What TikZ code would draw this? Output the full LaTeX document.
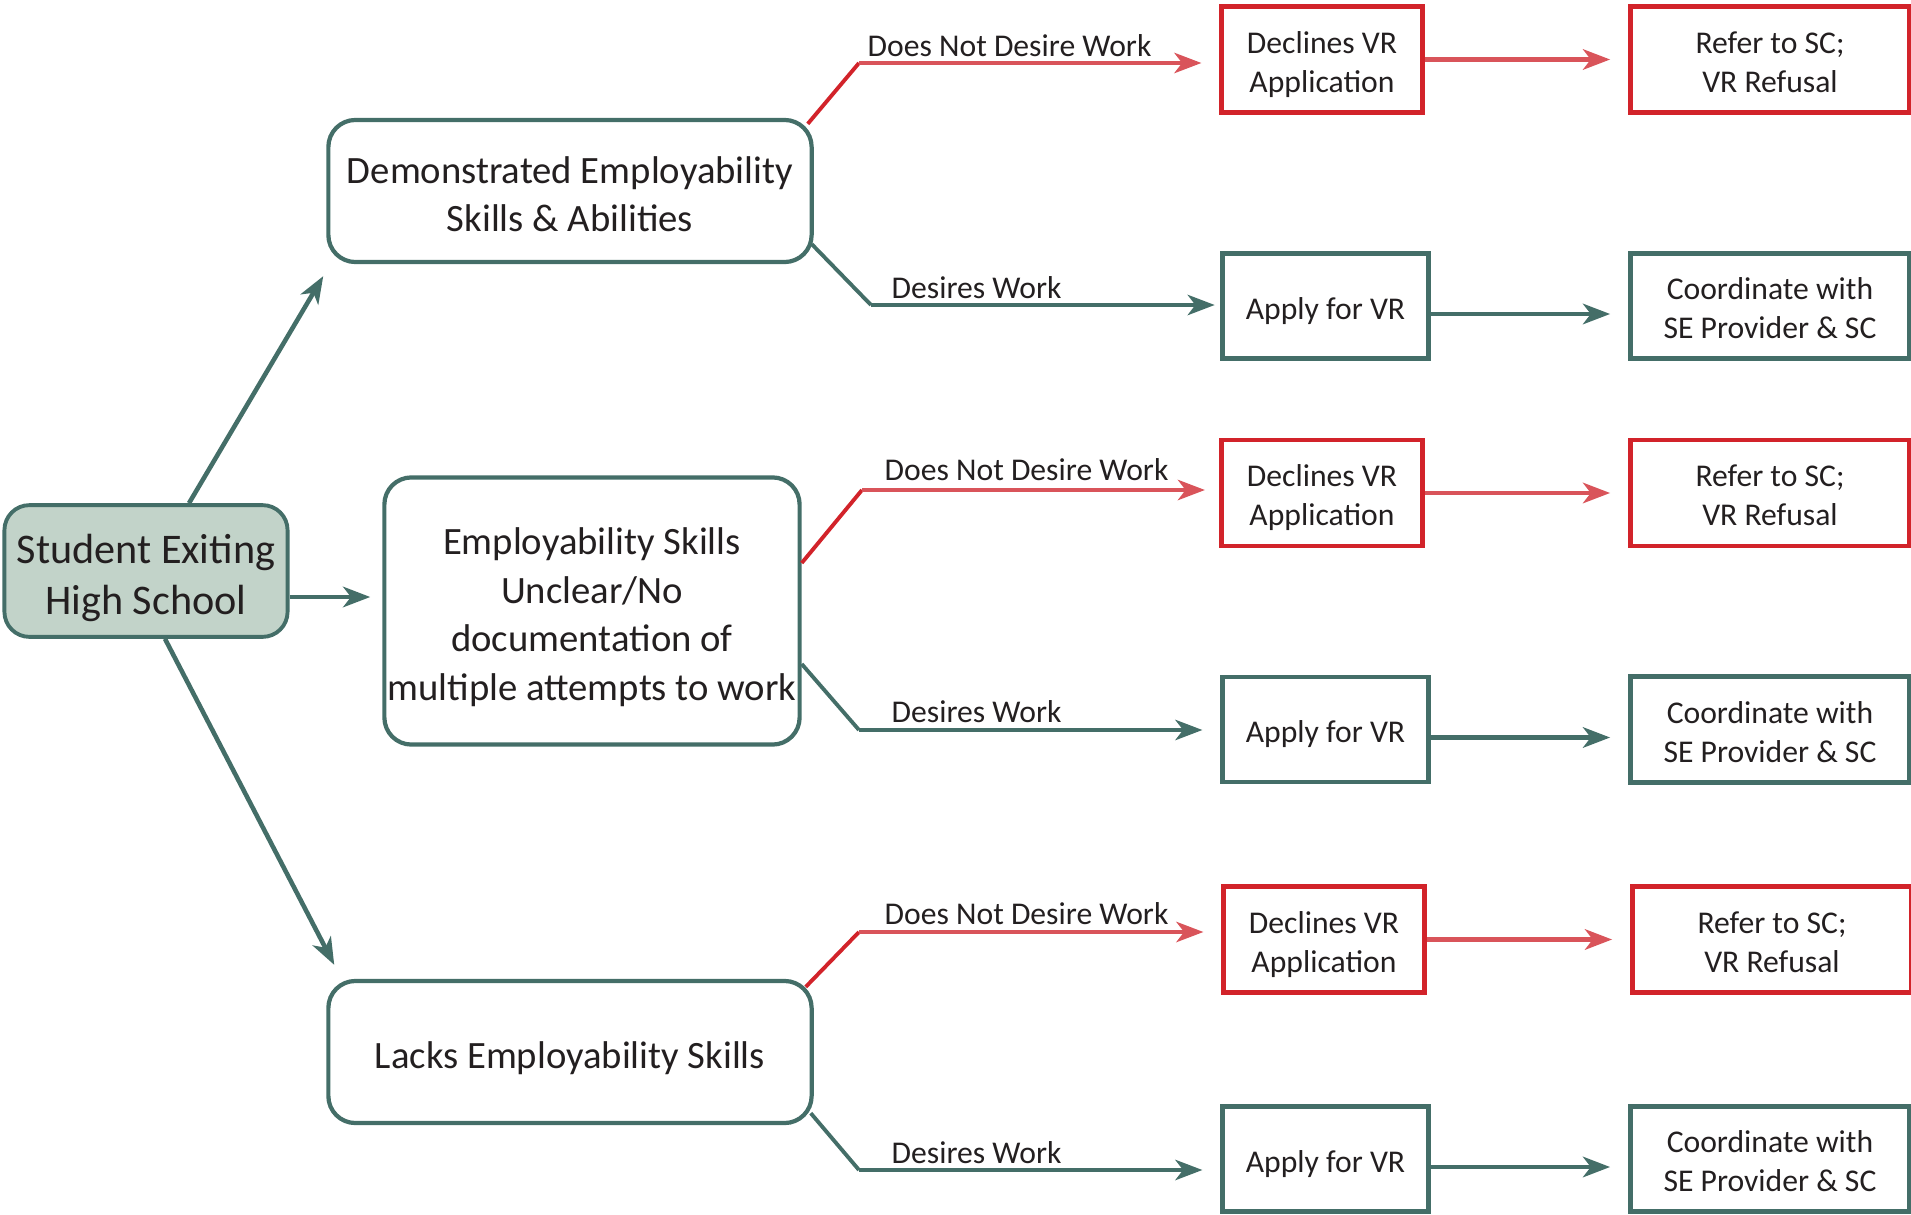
\documentclass[tikz,border=0pt]{standalone}
\usepackage{fontspec}
\setmainfont{Carlito}
\usetikzlibrary{shapes,arrows.meta,calc}
\definecolor{vrteal}{RGB}{68,110,104}
\definecolor{vrred}{RGB}{210,35,42}
\definecolor{vrpink}{RGB}{217,84,90}
\definecolor{vrfill}{RGB}{194,211,201}
\definecolor{vrtext}{RGB}{35,31,32}
\tikzstyle{boxtext} = [align=flush center, inner xsep=0pt, text=vrtext,
    execute at begin node={\rule{0pt}{1.1em}}, execute at end node={\rule[-0.25em]{0pt}{0.25em}}]
\tikzstyle{start} = [rectangle, boxtext, draw=vrteal, fill=vrfill, line width=1.1pt,
    rounded corners=0.25cm, font=\fontsize{12}{14.6}\selectfont]
\tikzstyle{block} = [rectangle, boxtext, draw=vrteal, line width=1.2pt,
    rounded corners=0.27cm, font=\fontsize{11}{13.8}\selectfont]
\tikzstyle{nowork} = [rectangle, boxtext, draw=vrred, line width=1.4pt, minimum height=1.06cm,
    font=\fontsize{9}{11.1}\selectfont]
\tikzstyle{work} = [nowork, draw=vrteal, minimum height=1.05cm]
\tikzstyle{branch} = [anchor=base west, inner sep=0pt, text=vrtext, font=\fontsize{9}{11}\selectfont]
\tikzstyle{line} = [draw=vrteal, line width=1.1pt, -{Stealth[length=7.7pt,width=5.8pt,inset=2.2pt]}]
\tikzstyle{redline} = [line, draw=vrpink]
\tikzstyle{thick line} = [line, line width=1.4pt]
\tikzstyle{thick redline} = [redline, line width=1.4pt]
\tikzstyle{fork} = [draw=vrteal, line width=1.1pt]
\tikzstyle{redfork} = [fork, draw=vrred]

\begin{document}
\begin{tikzpicture}[x=0.01cm, y=-0.01cm]
\useasboundingbox (0,0) rectangle (1911,1215);

\node [start, text width=2.83cm, minimum height=1.31cm] at (146,571) (student) {Student Exiting\\High School};
\node [block, text width=4.83cm, minimum height=1.42cm] at (570,191) (demo) {Demonstrated Employability\\Skills \& Abilities};
\node [block, align=center, minimum width=4.15cm, minimum height=2.67cm] at (592,611) (unclear) {\rule{0pt}{1.1em}Employability Skills\\Unclear/No\\documentation of\\multiple attempts to work};
\node [block, text width=4.83cm, minimum height=1.42cm] at (570,1052) (lacks) {Lacks Employability Skills};

\node [nowork, text width=2.01cm] at (1322,59.5) (decline1) {Declines VR\\Application};
\node [nowork, text width=2.795cm] at (1770,59.5) (refer1) {Refer to SC;\\VR Refusal};
\node [work, text width=2.06cm] at (1325.5,306) (apply1) {Apply for VR};
\node [work, text width=2.795cm] at (1770,306) (coord1) {Coordinate with\\SE Provider \& SC};

\node [nowork, text width=2.01cm] at (1322,493) (decline2) {Declines VR\\Application};
\node [nowork, text width=2.795cm] at (1770,493) (refer2) {Refer to SC;\\VR Refusal};
\node [work, text width=2.06cm] at (1325.5,729.5) (apply2) {Apply for VR};
\node [work, text width=2.795cm] at (1770,729.5) (coord2) {Coordinate with\\SE Provider \& SC};

\node [nowork, text width=2.01cm] at (1324,939.5) (decline3) {Declines VR\\Application};
\node [nowork, text width=2.795cm] at (1772,939.5) (refer3) {Refer to SC;\\VR Refusal};
\node [work, text width=2.06cm] at (1325.5,1159) (apply3) {Apply for VR};
\node [work, text width=2.795cm] at (1770,1159) (coord3) {Coordinate with\\SE Provider \& SC};

\coordinate (f1) at (859,63);
\coordinate (f2) at (871,305);
\coordinate (f3) at (862,490);
\coordinate (f4) at (859,730);
\coordinate (f5) at (859,932);
\coordinate (f6) at (859,1170);

\draw [line, line width=1.3pt] ($(student.north)+(43,0)$) -- ($(demo.south west)+(-3,12)$);
\draw [thick line] ($(student.east)+(0,26)$) -- ($(unclear.west)+(-12,-14)$);
\draw [line, line width=1.3pt] ($(student.south)+(19,0)$) -- ($(lacks.north west)+(8,-14)$);

\draw [redfork] ($(demo.north east)+(-6,6)$) -- (f1);
\draw [redline, shorten >=5pt] (f1) -- (f1 -| decline1.west);
\draw [fork] ($(demo.south east)+(-2,-20)$) -- (f2);
\draw [line, shorten >=1.5pt] (f2) -- (f2 -| apply1.west);

\draw [redfork] ($(unclear.east)+(0,-48)$) -- (f3);
\draw [redline, shorten >=4pt] (f3) -- (f3 -| decline2.west);
\draw [fork] ($(unclear.east)+(0,53)$) -- (f4);
\draw [line, shorten >=5pt] (f4) -- (f4 -| apply2.west);

\draw [redfork] ($(lacks.north east)+(-8,8)$) -- (f5);
\draw [redline, shorten >=5pt] (f5) -- (f5 -| decline3.west);
\draw [fork] ($(lacks.south east)+(-3,-12)$) -- (f6);
\draw [line, shorten >=5pt] (f6) -- (f6 -| apply3.west);

\node [branch] at ($(f1)+(8,-6)$) (nowant1) {Does Not Desire Work};
\node [branch] at ($(f2)+(20,-7)$) (want1) {Desires Work};
\node [branch] at ($(f3)+(22,-10)$) (nowant2) {Does Not Desire Work};
\node [branch] at ($(f4)+(32,-8)$) (want2) {Desires Work};
\node [branch] at ($(f5)+(25,-8)$) (nowant3) {Does Not Desire Work};
\node [branch] at ($(f6)+(32,-7)$) (want3) {Desires Work};

\draw [thick redline, shorten >=5pt] (decline1.east) -- (refer1.west);
\draw [thick redline, shorten >=5pt] (decline2.east) -- (refer2.west);
\draw [thick redline, shorten >=5pt] (decline3.east) -- (refer3.west);
\draw [thick line, shorten >=5pt] ($(apply1.east)+(0,8)$) -- ($(coord1.west)+(0,8)$);
\draw [thick line, shorten >=5pt] ($(apply2.east)+(0,8)$) -- ($(coord2.west)+(0,8)$);
\draw [thick line, shorten >=5pt] ($(apply3.east)+(0,8)$) -- ($(coord3.west)+(0,8)$);
\end{tikzpicture}
\end{document}
